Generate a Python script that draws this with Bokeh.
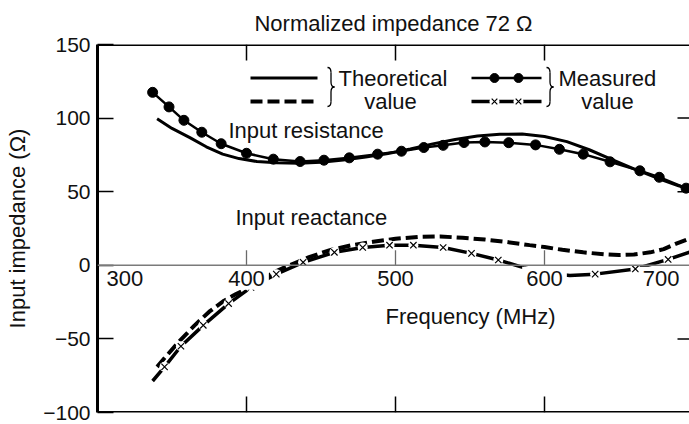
import numpy as np
from bokeh.plotting import figure
from bokeh.models import FixedTicker, Span, Range1d, Title, ColumnDataSource
from bokeh.core.properties import value
from bokeh.embed import file_html
from bokeh.resources import INLINE

# ---------------- data ----------------
theo_res_f = [340, 350, 362, 373, 384, 395, 407, 420, 435, 450, 465, 480, 495, 510,
              525, 540, 555, 570, 585, 600, 615, 630, 645, 660, 675, 690, 700]
theo_res_v = [99.5, 93, 86.7, 80.5, 75.5, 72.5, 70.5, 69.6, 69.3, 70, 71.5, 73.5, 76, 79,
              82.5, 85.5, 87.8, 89, 89.2, 87.5, 84, 78.5, 72, 65.5, 59.5, 54, 51]

meas_res_f = [337, 348, 358, 370, 383, 400, 418, 436, 452, 469, 488, 504, 519, 532,
              546, 560, 576, 594, 610, 626, 644, 664, 677, 695]
meas_res_v = [117.5, 107.6, 98.5, 90.4, 82.6, 76.1, 72.1, 70.5, 71.4, 73, 75.5, 77.5, 80, 81.5,
              83.4, 83.8, 83.3, 81.8, 78.8, 75.5, 70.3, 64.2, 59.8, 52.4]

theo_react_f = [340, 345, 355, 365, 375, 385, 393, 400, 410, 420, 430, 442, 456, 470, 485,
                500, 515, 530, 545, 560, 575, 590, 600, 612, 626, 640, 650, 660, 671, 680, 688, 698]
theo_react_v = [-69, -63, -51.5, -41, -31.5, -24, -19.5, -16, -9.5, -4, 0.5, 5.5, 10.3, 13.5, 16,
                18, 19.3, 19.6, 18.7, 17.5, 15.8, 13.7, 12.4, 10.5, 8.8, 7.5, 7, 7.3, 8.8, 11, 14.5, 18.5]

meas_react_f = [337, 345, 356, 371, 388, 403, 420, 438, 459, 478, 496, 512, 532, 551, 569,
                586, 600, 617, 634, 661, 683, 698]
meas_react_v = [-78.6, -69, -55, -40.8, -26, -15, -6, 2, 8.8, 12.1, 13.7, 13.7, 12.1, 8.1, 3.6,
                -1.6, -5, -7, -6, -2.5, 4, 9.2]
meas_react_marked = [0, 1, 1, 1, 1, 1, 1, 1, 1, 1, 1, 1, 1, 1, 1,
                     0, 1, 0, 1, 1, 1, 0]

x_ticks = [300, 400, 500, 600, 700]
x_tick_labels = ["300", "400", "500", "600", "700"]
y_ticks = [-100, -50, 0, 50, 100, 150]
y_tick_labels = ["\u2212100", "\u221250", "0", "50", "100", "150"]

title_text = "Normalized impedance 72 \u03a9"
y_label = "Input impedance (\u03a9)"
x_label = "Frequency (MHz)"

# ---------------- layout helpers ----------------
W, H = 689, 424
L, T, B = 97, 44, 12
X0, Y0, Y1 = 300, -100, 150
XS = 1.49                      # px per MHz
X1 = X0 + (W - L) / XS
YS = (H - T - B) / (Y1 - Y0)   # px per ohm

def fx(px):
    return X0 + (px - L) / XS

def fy(py):
    return Y1 - (py - T) / YS

def dx(px):
    return px / XS

def dy(py):
    return py / YS

FONT = "Liberation Sans"
FS = "22px"
FS_TICK = "21px"
INK = "#111111"

p = figure(width=W, height=H, x_range=Range1d(X0, X1), y_range=Range1d(Y0, Y1),
           output_backend="svg", toolbar_location=None, x_axis_location=None,
           min_border_left=L, min_border_top=T, min_border_bottom=B, min_border_right=0)
p.grid.visible = False
p.outline_line_color = None
p.background_fill_color = "white"
p.border_fill_color = "white"

p.title = Title(text=title_text, align="center", text_font=FONT, text_font_size=FS,
                text_font_style="normal", text_color=INK, standoff=17)

ax = p.yaxis[0]
ax.ticker = FixedTicker(ticks=y_ticks)
ax.major_label_overrides = {t: s for t, s in zip(y_ticks, y_tick_labels)}
ax.major_tick_in = 16
ax.major_tick_out = 0
ax.minor_tick_in = 0
ax.minor_tick_out = 0
ax.axis_line_width = 3
ax.axis_line_color = "black"
ax.major_tick_line_width = 1.5
ax.major_label_text_font = FONT
ax.major_label_text_font_size = FS_TICK
ax.major_label_text_color = INK
ax.major_label_standoff = 7
ax.axis_label = y_label
ax.axis_label_text_font = FONT
ax.axis_label_text_font_size = FS
ax.axis_label_text_font_style = "normal"
ax.axis_label_text_color = INK
ax.axis_label_standoff = 10

# ---------------- curves ----------------
p.line(theo_res_f, theo_res_v, line_width=3, line_color="black")
p.line(meas_res_f, meas_res_v, line_width=2.5, line_color="black")
p.scatter(meas_res_f, meas_res_v, marker="circle", size=10, fill_color="black", line_color="black")

p.line(theo_react_f, theo_react_v, line_width=4, line_dash="12 5", line_color="black")
p.line(meas_react_f, meas_react_v, line_width=3.5, line_color="black")
mk_f = [f for f, m in zip(meas_react_f, meas_react_marked) if m]
mk_v = [v for v, m in zip(meas_react_v, meas_react_marked) if m]
p.scatter(mk_f, mk_v, marker="circle", size=10, fill_color="white", line_color=None)
p.scatter(mk_f, mk_v, marker="x", size=9, line_width=1.2, line_color="black")

# ---------------- x tick labels (inside, with white background) ----------------
aligns = ["left", "center", "center", "center", "right"]
xoffs = [5, 0, 0, 0, -10]
src = ColumnDataSource(dict(x=x_ticks, y=[0] * len(x_ticks), t=x_tick_labels, a=aligns, o=xoffs))
p.text(x="x", y="y", text="t", text_align="a", x_offset="o", y_offset=13, source=src,
       text_baseline="middle", text_font=value(FONT), text_font_size=FS, text_color=INK,
       background_fill_color="white", padding=4)

# zero line and its ticks
p.add_layout(Span(location=0, dimension="width", line_color="#7a7a7a", line_width=1.5))
inner = [t for t in x_ticks if X0 < t < 700]
p.segment(x0=inner, y0=[0] * len(inner), x1=inner, y1=[dy(15)] * len(inner),
          line_color="#6a6a6a", line_width=1.3)

# frame top / bottom and tick marks
p.add_layout(Span(location=Y1, dimension="width", line_color="black", line_width=3))
p.add_layout(Span(location=Y0, dimension="width", line_color="black", line_width=3))
p.segment(x0=inner, y0=[Y1] * len(inner), x1=inner, y1=[Y1 - dy(16)] * len(inner),
          line_color="black", line_width=1.5)
p.segment(x0=inner, y0=[Y0] * len(inner), x1=inner, y1=[Y0 + dy(16)] * len(inner),
          line_color="black", line_width=1.5)
ry = [t for t in y_ticks if Y0 < t < Y1 and t != 0]
p.segment(x0=[X1 - dx(12)] * len(ry), y0=ry, x1=[X1] * len(ry), y1=ry,
          line_color="black", line_width=1.5)

# ---------------- annotations ----------------
def txt(px, py, s, align="left"):
    p.text(x=[fx(px)], y=[fy(py)], text=[s], text_align=align, text_baseline="middle",
           text_font=value(FONT), text_font_size=FS, text_color=INK)

txt(228, 129.5, "Input resistance")
txt(235, 216.5, "Input reactance")
txt(470, 316, x_label, "center")

# legend
r1, r2 = 77.5, 101
p.line([fx(250), fx(317)], [fy(r1)] * 2, line_width=3, line_color="black")
p.line([fx(250), fx(317)], [fy(r2)] * 2, line_width=4, line_dash="12 5", line_color="black")
p.line([fx(471), fx(541)], [fy(r1)] * 2, line_width=2.5, line_color="black")
p.scatter([fx(494), fx(518)], [fy(r1)] * 2, marker="circle", size=9, fill_color="black", line_color="black")
p.line([fx(471), fx(541)], [fy(r2)] * 2, line_width=3.5, line_color="black")
p.scatter([fx(494), fx(518)], [fy(r2)] * 2, marker="circle", size=10, fill_color="white", line_color=None)
p.scatter([fx(494), fx(518)], [fy(r2)] * 2, marker="x", size=8, line_width=1.2, line_color="black")

def brace(xl, top, bot, w=7, r=5):
    xm = xl + w / 2
    mid = (top + bot) / 2
    qs = [((xl, top), (xm, top + r), (xm, top)),
          ((xm, mid - r), (xl + w, mid), (xm, mid)),
          ((xl + w, mid), (xm, mid + r), (xm, mid)),
          ((xm, bot - r), (xl, bot), (xm, bot))]
    p.quadratic(x0=[fx(a[0]) for a, b, c in qs], y0=[fy(a[1]) for a, b, c in qs],
                x1=[fx(b[0]) for a, b, c in qs], y1=[fy(b[1]) for a, b, c in qs],
                cx=[fx(c[0]) for a, b, c in qs], cy=[fy(c[1]) for a, b, c in qs],
                line_color="black", line_width=1.3)
    p.segment(x0=[fx(xm), fx(xm)], y0=[fy(top + r), fy(mid + r)],
              x1=[fx(xm), fx(xm)], y1=[fy(mid - r), fy(bot - r)],
              line_color="black", line_width=1.3)

brace(327, 67, 106)
brace(546, 67, 106)
txt(338, r1, "Theoretical")
txt(390, r2, "value", "center")
txt(558, r1, "Measured")
txt(607, r2, "value", "center")

open("out.html", "w").write(file_html(p, INLINE))
